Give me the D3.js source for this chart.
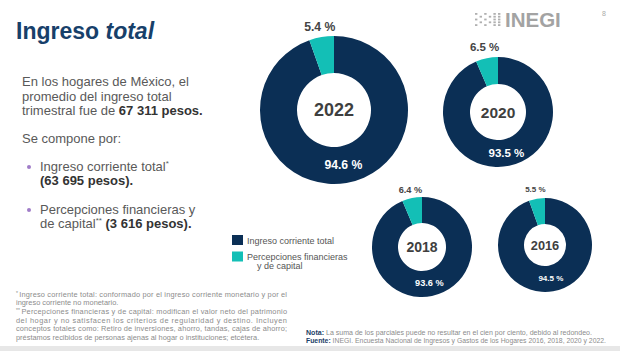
<!DOCTYPE html>
<html><head><meta charset="utf-8">
<script src="https://cdn.jsdelivr.net/npm/d3@7"></script>
<style>
html,body{margin:0;padding:0;background:#fff;}
svg{display:block;font-family:"Liberation Sans",Arial,sans-serif;}
</style></head>
<body>
<svg id="c" width="620" height="351"></svg>
<script>
// ---- data ----
const years = ["2022", "2020", "2018", "2016"];
const ingresoCorriente = [94.6, 93.5, 93.6, 94.5];
const percepciones = [5.4, 6.5, 6.4, 5.5];
const seriesNames = ["Ingreso corriente total", "Percepciones financieras", "y de capital"];

// ---- layout (not data) ----
const layout = [
  {cx: 334, cy: 110, r: 74, ir: 37, yf: 18, pf: 12.2, lf: 1.14},
  {cx: 498, cy: 112, r: 55, ir: 28, yf: 15.5, pf: 11.5, lf: 1.2},
  {cx: 422, cy: 247, r: 50, ir: 24, yf: 14, pf: 9.2, lf: 1.16},
  {cx: 545, cy: 245, r: 47, ir: 21, yf: 12.8, pf: 8, lf: 1.19}
];
const NAVY = "#0b2f55", TEAL = "#13bfb6";
const color = d3.scaleOrdinal().domain([0, 1]).range([NAVY, TEAL]);

const svg = d3.select("#c");

// bottom band
svg.append("rect").attr("x", 0).attr("y", 346).attr("width", 620).attr("height", 5).attr("fill", "#e7e7e7");

// title
const title = svg.append("text").attr("x", 16).attr("y", 39).attr("font-size", 23).attr("font-weight", "bold").attr("fill", "#17406a");
title.append("tspan").text("Ingreso ");
title.append("tspan").attr("font-style", "italic").text("total");

// page number
svg.append("text").attr("x", 606).attr("y", 16).attr("font-size", 7).attr("fill", "#aaa").attr("text-anchor", "end").text("8");

// INEGI logo
const logo = svg.append("g");
const dotCols = 6, dotRows = 5;
for (let i = 0; i < dotCols; i++) for (let j = 0; j < dotRows; j++) {
  if ((i + j) % 2 === 0 || i > 3)
    logo.append("rect").attr("x", 475 + i * 4.6).attr("y", 13 + j * 2.8).attr("width", 2.4).attr("height", 1.8).attr("fill", "#b0b0b0");
}
logo.append("text").attr("x", 505).attr("y", 27).attr("font-size", 20.5).attr("font-weight", "bold").attr("fill", "#a3a3a3").text("INEGI");

// left text
const body = svg.append("g").attr("font-size", 13).attr("fill", "#595959");
function line(x, y, parts) {
  const t = body.append("text").attr("x", x).attr("y", y);
  parts.forEach(p => {
    const s = t.append("tspan").text(p.t);
    if (p.b) s.attr("font-weight", "bold").attr("fill", "#333");
    if (p.sup) s.attr("font-size", 8).attr("dy", -5);
  });
  return t;
}
line(22, 86, [{t: "En los hogares de México, el"}]);
line(22, 100.5, [{t: "promedio del ingreso total"}]);
line(22, 115, [{t: "trimestral fue de "}, {t: "67 311 pesos.", b: true}]);
line(22, 143, [{t: "Se compone por:"}]);
line(40, 171, [{t: "Ingreso corriente total"}, {t: "*", sup: true}]);
line(40, 185, [{t: "(63 695 pesos).", b: true}]);
body.append("text").attr("x", 40).attr("y", 214).text("Percepciones financieras y");
const l8 = body.append("text").attr("x", 40).attr("y", 228);
l8.append("tspan").text("de capital");
l8.append("tspan").attr("font-size", 8).attr("dy", -5).text("**");
l8.append("tspan").attr("dy", 5).text(" ");
l8.append("tspan").attr("font-weight", "bold").attr("fill", "#333").text("(3 616 pesos).");
[167, 210].forEach(y => svg.append("circle").attr("cx", 29).attr("cy", y).attr("r", 2).attr("fill", "#a07cc8"));

// legend
const leg = svg.append("g").attr("font-size", 9).attr("fill", "#555");
leg.append("rect").attr("x", 232).attr("y", 235).attr("width", 11).attr("height", 10).attr("fill", color(0));
leg.append("rect").attr("x", 232).attr("y", 251.5).attr("width", 11).attr("height", 10).attr("fill", color(1));
leg.append("text").attr("x", 247).attr("y", 243.5).text(seriesNames[0]);
leg.append("text").attr("x", 247).attr("y", 259.5).text(seriesNames[1]);
leg.append("text").attr("x", 257).attr("y", 268.5).text(seriesNames[2]);

// donuts
const pie = d3.pie().sort(null).value(d => d);
years.forEach((yr, i) => {
  const L = layout[i];
  const vals = [ingresoCorriente[i], percepciones[i]];
  const arcs = pie(vals);
  const arc = d3.arc().innerRadius(L.ir).outerRadius(L.r);
  const outer = d3.arc().innerRadius(L.r * L.lf).outerRadius(L.r * L.lf);
  const g = svg.append("g").attr("transform", `translate(${L.cx},${L.cy})`);
  g.selectAll("path").data(arcs).join("path").attr("d", arc).attr("fill", (d, k) => color(k));
  g.append("text").attr("text-anchor", "middle").attr("dominant-baseline", "central")
    .attr("font-size", L.yf).attr("font-weight", "bold").attr("fill", "#3f3f3f").text(yr);
  const c0 = arc.centroid(arcs[0]);
  g.append("text").attr("x", c0[0]).attr("y", c0[1]).attr("text-anchor", "middle").attr("dominant-baseline", "central")
    .attr("font-size", L.pf).attr("font-weight", "bold").attr("fill", "#fff").text(ingresoCorriente[i].toFixed(1) + " %");
  const c1 = outer.centroid(arcs[1]);
  g.append("text").attr("x", c1[0]).attr("y", c1[1]).attr("text-anchor", "middle").attr("dominant-baseline", "central")
    .attr("font-size", L.pf).attr("font-weight", "bold").attr("fill", "#444").text(percepciones[i].toFixed(1) + " %");
});

// footnotes
const fn = svg.append("g").attr("font-size", 7.4).attr("fill", "#8c8c8c");
const fnLines = [
  {y: 297, t: "Ingreso corriente total: conformado por el ingreso corriente monetario y por el", pre: "*", j: true},
  {y: 305, t: "ingreso corriente no monetario.", j: false},
  {y: 314, t: "Percepciones financieras y de capital: modifican el valor neto del patrimonio", pre: "**", j: true},
  {y: 322.5, t: "del hogar y no satisfacen los criterios de regularidad y destino. Incluyen", j: true},
  {y: 331, t: "conceptos totales como: Retiro de inversiones, ahorro, tandas, cajas de ahorro;", j: true},
  {y: 339.5, t: "préstamos recibidos de personas ajenas al hogar o instituciones; etcétera.", j: false}
];
fnLines.forEach(L => {
  let x0 = 16;
  if (L.pre) {
    fn.append("text").attr("x", 16).attr("y", L.y - 2.5).attr("font-size", 5).text(L.pre);
    x0 = 16 + (L.pre.length * 2.2) + 1;
  }
  const t = fn.append("text").attr("x", x0).attr("y", L.y).text(L.t);
  if (L.j) t.attr("textLength", 287 - x0).attr("lengthAdjust", "spacing");
});

// note & source
const ns = svg.append("g").attr("font-size", 7).attr("fill", "#8c8c8c");
const n1 = ns.append("text").attr("x", 306).attr("y", 334.5).attr("textLength", 286).attr("lengthAdjust", "spacingAndGlyphs");
n1.append("tspan").attr("font-weight", "bold").attr("fill", "#1b3e66").text("Nota:");
n1.append("tspan").text(" La suma de los parciales puede no resultar en el cien por ciento, debido al redondeo.");
const n2 = ns.append("text").attr("x", 306).attr("y", 342.5).attr("textLength", 300).attr("lengthAdjust", "spacingAndGlyphs");
n2.append("tspan").attr("font-weight", "bold").attr("fill", "#1b3e66").text("Fuente:");
n2.append("tspan").text(" INEGI. Encuesta Nacional de Ingresos y Gastos de los Hogares 2016, 2018, 2020 y 2022.");
</script>
</body></html>
